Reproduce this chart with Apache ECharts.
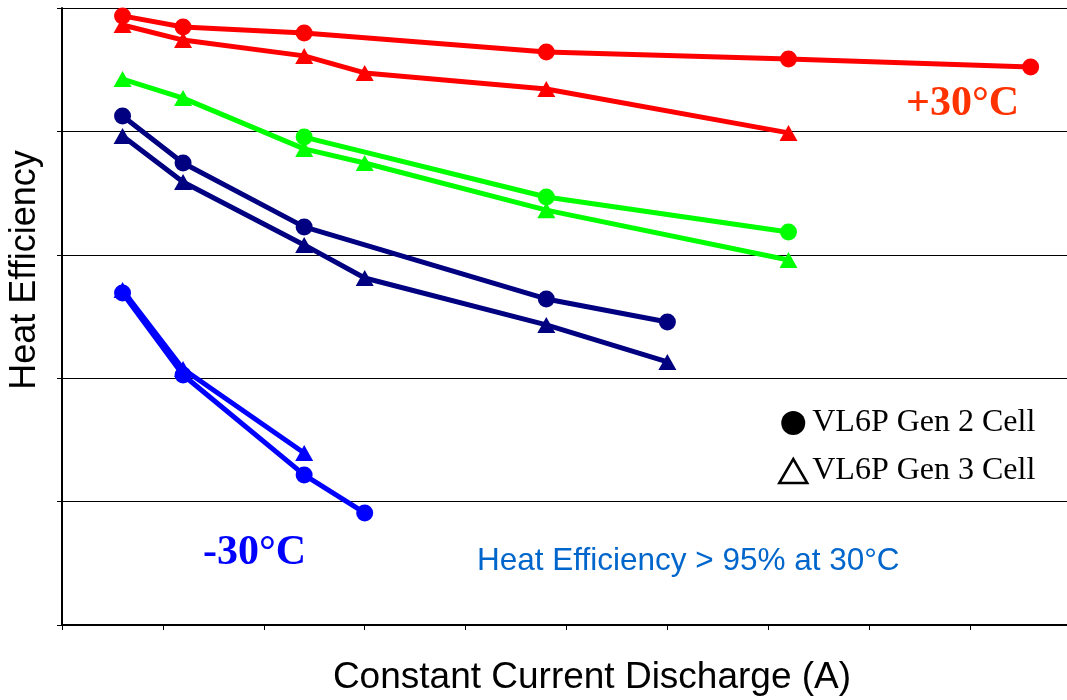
<!DOCTYPE html>
<html><head><meta charset="utf-8">
<script src="https://cdn.jsdelivr.net/npm/echarts@6/dist/echarts.min.js"></script>
<style>html,body{margin:0;padding:0;background:#fff}#c{width:1067px;height:700px}</style>
</head><body><div id="c"></div>
<script>
// Discharge currents (A) and heat efficiency (%) per series
const redGen2X = [0.6, 1.2, 2.4, 4.8, 7.2, 9.6];
const redGen2Y = [99.68, 99.23, 98.99, 98.22, 97.93, 97.61];
const redGen3X = [0.6, 1.2, 2.4, 3.0, 4.8, 7.2];
const redGen3Y = [99.31, 98.70, 98.06, 97.37, 96.72, 94.94];
const greenGen3X = [0.6, 1.2, 2.4, 3.0, 4.8, 7.2];
const greenGen3Y = [97.12, 96.35, 94.29, 93.72, 91.81, 89.79];
const greenGen2X = [2.4, 4.8, 7.2];
const greenGen2Y = [94.77, 92.34, 90.92];
const navyGen2X = [0.6, 1.2, 2.4, 4.8, 6.0];
const navyGen2Y = [95.62, 93.72, 91.13, 88.21, 87.28];
const navyGen3X = [0.6, 1.2, 2.4, 3.0, 4.8, 6.0];
const navyGen3Y = [94.81, 92.95, 90.40, 89.06, 87.16, 85.66];
const blueGen2X = [0.6, 1.2, 2.4, 3.0];
const blueGen2Y = [88.45, 85.13, 81.08, 79.54];
const blueGen3X = [0.6, 1.2, 2.4];
const blueGen3Y = [88.57, 85.37, 81.97];

const zip = (xs, ys) => xs.map((x, i) => [x, ys[i]]);
const circ = {symbol: 'circle', symbolSize: 17};
const tri = {symbol: 'triangle', symbolSize: [18, 16]};
function mk(xs, ys, color, sym) {
  return Object.assign({
    type: 'line', data: zip(xs, ys), showSymbol: true,
    lineStyle: {color: color, width: 5},
    itemStyle: {color: color, borderWidth: 0},
    emphasis: {disabled: true}, animation: false, z: 3
  }, sym);
}
const chart = echarts.init(document.getElementById('c'));
chart.setOption({
  animation: false,
  grid: {left: 62, right: -4, top: 8, bottom: 75, outerBoundsMode: 'none', containLabel: false},
  xAxis: {
    type: 'value', min: 0, max: 10, interval: 1,
    axisLine: {show: true, lineStyle: {color: '#000', width: 2}},
    axisTick: {show: true, length: 5, lineStyle: {color: '#000', width: 1}},
    axisLabel: {show: false}, splitLine: {show: false}
  },
  yAxis: {
    type: 'value', min: 75, max: 100, interval: 5,
    axisLine: {show: true, lineStyle: {color: '#000', width: 2}},
    axisTick: {show: true, length: 5, lineStyle: {color: '#000', width: 1}},
    axisLabel: {show: false},
    splitLine: {show: true, lineStyle: {color: '#000', width: 1}}
  },
  legend: {
    orient: 'vertical', left: 773, top: 402, itemGap: 16,
    itemWidth: 28, itemHeight: 24, selectedMode: false,
    textStyle: {fontFamily: 'Liberation Serif', fontSize: 32, color: '#000', padding: [0, 0, 0, 0]},
    data: [
      {name: 'VL6P Gen 2 Cell', icon: 'circle', itemStyle: {color: '#000'}},
      {name: 'VL6P Gen 3 Cell', icon: 'triangle', itemStyle: {color: '#fff', borderColor: '#000', borderWidth: 2.5}}
    ]
  },
  graphic: [
    {type: 'text', x: 25, y: 270, rotation: Math.PI / 2,
     style: {text: 'Heat Efficiency', font: '36px "Liberation Sans"', fill: '#000', align: 'center', verticalAlign: 'middle'}},
    {type: 'text', x: 592, y: 678,
     style: {text: 'Constant Current Discharge (A)', font: '37px "Liberation Sans"', fill: '#000', align: 'center', verticalAlign: 'middle'}},
    {type: 'text', left: 906, top: 83, style: {text: '+30°C', font: 'bold 42px "Liberation Serif"', fill: '#FF3300'}},
    {type: 'text', left: 203, top: 532, style: {text: '-30°C', font: 'bold 42px "Liberation Serif"', fill: '#0000FF'}},
    {type: 'text', left: 477, top: 545, style: {text: 'Heat Efficiency > 95% at 30°C', font: '31.5px "Liberation Sans"', fill: '#0066CC'}}
  ],
  series: [
    {name: 'VL6P Gen 2 Cell', type: 'line', data: [], symbol: 'circle', itemStyle: {color: '#000'}},
    {name: 'VL6P Gen 3 Cell', type: 'line', data: [], symbol: 'triangle', itemStyle: {color: '#fff', borderColor: '#000'}},
    mk(redGen2X, redGen2Y, '#FF0000', circ),
    mk(redGen3X, redGen3Y, '#FF0000', tri),
    mk(greenGen3X, greenGen3Y, '#00FF00', tri),
    mk(greenGen2X, greenGen2Y, '#00FF00', circ),
    mk(navyGen2X, navyGen2Y, '#000080', circ),
    mk(navyGen3X, navyGen3Y, '#000080', tri),
    mk(blueGen2X, blueGen2Y, '#0000FF', circ),
    mk(blueGen3X, blueGen3Y, '#0000FF', tri)
  ]
});
</script></body></html>
